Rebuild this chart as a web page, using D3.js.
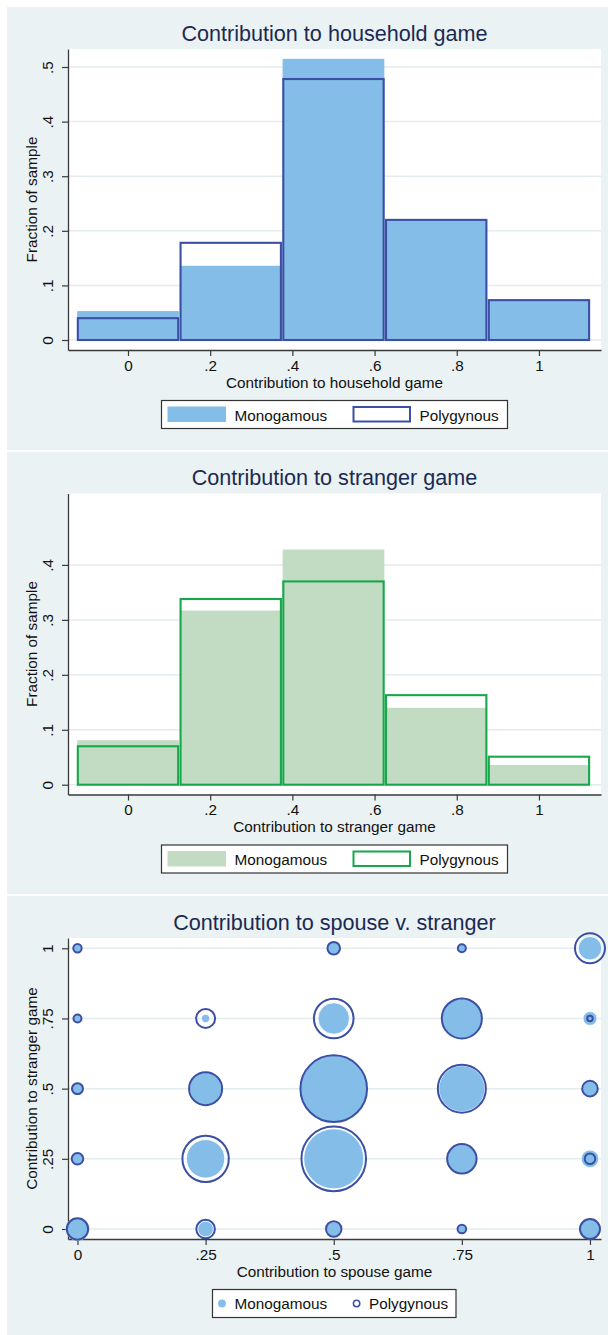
<!DOCTYPE html>
<html>
<head>
<meta charset="utf-8">
<script src="https://cdn.jsdelivr.net/npm/d3@7"></script>
<style>
  html, body { margin: 0; padding: 0; background: #ffffff; }
  svg { display: block; font-family: "Liberation Sans", Arial, Helvetica, sans-serif; }
</style>
</head>
<body>
<script>
// ---------------- DATA ----------------
const binCenters = [0, 0.25, 0.5, 0.75, 1];
const binWidth = 0.25;
const groupNames = ["Monogamous", "Polygynous"];

const householdMono = [0.053, 0.136, 0.515, 0.220, 0.073];
const householdPoly = [0.040, 0.178, 0.478, 0.220, 0.073];
const strangerMono  = [0.081, 0.317, 0.428, 0.140, 0.036];
const strangerPoly  = [0.070, 0.338, 0.370, 0.163, 0.051];

const histXTicks = [0, 0.2, 0.4, 0.6, 0.8, 1];
const histXLabels = ["0", ".2", ".4", ".6", ".8", "1"];
const hhYTicks = [0, 0.1, 0.2, 0.3, 0.4, 0.5];
const hhYLabels = ["0", ".1", ".2", ".3", ".4", ".5"];
const stYTicks = [0, 0.1, 0.2, 0.3, 0.4];
const stYLabels = ["0", ".1", ".2", ".3", ".4"];

const spouseLevels = [0, 0.25, 0.5, 0.75, 1];
const strangerLevels = [0, 0.25, 0.5, 0.75, 1];
const scatterTickLabels = ["0", ".25", ".5", ".75", "1"];
// weights (% of group) rows = stranger level, columns = spouse level
const monoWeights = [
  [2.65, 1.22, 1.07, 0.39, 2.00],
  [0.67, 7.37, 18.0, 4.32, 1.55],
  [0.85, 5.31, 22.18, 10.58, 1.22],
  [0.37, 0.35, 4.93, 7.84, 0.98],
  [0.37, 0.00, 0.79, 0.32, 2.74]
];
const polyWeights = [
  [2.29, 1.73, 1.19, 0.37, 2.00],
  [0.67, 10.76, 20.87, 4.32, 0.56],
  [0.60, 5.45, 22.18, 11.52, 1.22],
  [0.32, 1.80, 7.84, 8.00, 0.15],
  [0.35, 0.00, 0.79, 0.32, 4.50]
];

// ---------------- STYLE ----------------
const W = 608, H = 1335;
const bgCol = "#eaf2f3";
const gridCol = "#e4ecef";
const axisCol = "#3a3a3a";
const titleCol = "#1b2a52";
const blueFill = "#85bde9";
const blueLine = "#3b4fa5";
const greenFill = "#c1dcc2";
const greenLine = "#17a84b";

const svg = d3.select("body").append("svg").attr("width", W).attr("height", H);

const plotX0 = 68, plotX1 = 601;

function panelBg(top, bottom) {
  svg.append("rect").attr("x", 7).attr("y", top).attr("width", W - 7).attr("height", bottom - top)
    .attr("fill", bgCol);
}

function styleAxis(g) {
  g.selectAll("path.domain").attr("stroke", axisCol).attr("stroke-width", 1.3);
  g.selectAll(".tick line").attr("stroke", axisCol).attr("stroke-width", 1.2);
  g.selectAll(".tick text").attr("fill", "#111").attr("font-size", 15.3)
    .attr("font-family", "'Liberation Sans', Arial, sans-serif");
}

function drawFrame(o) {
  const off = o.off;
  svg.append("rect").attr("x", plotX0).attr("y", off + 49).attr("width", plotX1 - plotX0)
    .attr("height", 301).attr("fill", "#ffffff");
  // gridlines
  svg.append("g").selectAll("line").data(o.yTicks).join("line")
    .attr("x1", plotX0 + 1).attr("x2", plotX1)
    .attr("y1", d => o.y(d)).attr("y2", d => o.y(d))
    .attr("stroke", gridCol).attr("stroke-width", 1.5);
  // title
  svg.append("text").attr("x", (plotX0 + plotX1) / 2).attr("y", off + 40.5)
    .attr("text-anchor", "middle").attr("font-size", 21.6).attr("fill", titleCol).text(o.title);
  // x title
  svg.append("text").attr("x", (plotX0 + plotX1) / 2).attr("y", off + 387.5)
    .attr("text-anchor", "middle").attr("font-size", 15.3).attr("fill", "#111").text(o.xTitle);
  // y title
  svg.append("text").attr("transform", `translate(37,${off + 199.5}) rotate(-90)`)
    .attr("text-anchor", "middle").attr("font-size", 15.3).attr("fill", "#111").text(o.yTitle);
}

function drawAxes(o) {
  const off = o.off;
  const gx = svg.append("g").attr("transform", `translate(0,${off + 350})`)
    .call(d3.axisBottom(o.x).tickValues(o.xTicks).tickFormat((d, i) => o.xLabels[i])
      .tickSize(6).tickSizeOuter(0));
  styleAxis(gx);
  gx.selectAll(".tick text").attr("y", 20.5).attr("dy", 0);

  const gy = svg.append("g").attr("transform", `translate(${plotX0},0)`)
    .call(d3.axisLeft(o.y).tickValues(o.yTicks).tickFormat((d, i) => o.yLabels[i])
      .tickSize(6).tickSizeOuter(0));
  styleAxis(gy);
  gy.selectAll(".tick text").attr("x", 0).attr("dy", 0)
    .attr("text-anchor", "middle")
    .attr("transform", `translate(${53 - plotX0},0) rotate(-90)`);
}

function drawHist(o) {
  const off = o.off;
  const x = d3.scaleLinear().domain([-0.146, 1.151]).range([plotX0, plotX1]);
  const y = d3.scaleLinear().domain(o.yDomain).range([off + 350, off + 49]);
  const cfg = Object.assign({}, o, { x, y });
  drawFrame(cfg);

  const bars = binCenters.map((c, i) => ({ c, m: o.mono[i], p: o.poly[i] }));
  svg.append("g").selectAll("rect").data(bars).join("rect")
    .attr("x", d => x(d.c - binWidth / 2) + 0.5)
    .attr("width", d => x(d.c + binWidth / 2) - x(d.c - binWidth / 2) - 1)
    .attr("y", d => y(d.m))
    .attr("height", d => y(0) - y(d.m))
    .attr("fill", o.fill);
  svg.append("g").selectAll("rect").data(bars).join("rect")
    .attr("x", d => x(d.c - binWidth / 2) + 1.2)
    .attr("width", d => x(d.c + binWidth / 2) - x(d.c - binWidth / 2) - 2.4)
    .attr("y", d => y(d.p))
    .attr("height", d => y(0) - y(d.p))
    .attr("fill", "none").attr("stroke", o.line).attr("stroke-width", 2.1);

  drawAxes(cfg);

  const lg = svg.append("g");
  lg.append("rect").attr("x", 161.5).attr("y", off + 400.5).attr("width", 346).attr("height", 28)
    .attr("fill", "#fff").attr("stroke", "#333").attr("stroke-width", 1.2);
  lg.append("rect").attr("x", 167.5).attr("y", off + 406.5).attr("width", 58.5).attr("height", 15.5)
    .attr("fill", o.fill);
  lg.append("text").attr("x", 234.5).attr("y", off + 420.5).attr("font-size", 15.3).attr("fill", "#111")
    .text(groupNames[0]);
  lg.append("rect").attr("x", 353.5).attr("y", off + 407).attr("width", 56.5).attr("height", 14.5)
    .attr("fill", "#fff").attr("stroke", o.line).attr("stroke-width", 2);
  lg.append("text").attr("x", 419.5).attr("y", off + 420.5).attr("font-size", 15.3).attr("fill", "#111")
    .text(groupNames[1]);
}

// ---------------- PANEL 1 ----------------
panelBg(7, 450);
drawHist({
  off: 0, yDomain: [-0.0183, 0.533], mono: householdMono, poly: householdPoly,
  fill: blueFill, line: blueLine, yTicks: hhYTicks, yLabels: hhYLabels,
  xTicks: histXTicks, xLabels: histXLabels,
  title: "Contribution to household game", xTitle: "Contribution to household game",
  yTitle: "Fraction of sample"
});

// ---------------- PANEL 2 ----------------
panelBg(452, 894);
drawHist({
  off: 444.5, yDomain: [-0.0178, 0.530], mono: strangerMono, poly: strangerPoly,
  fill: greenFill, line: greenLine, yTicks: stYTicks, yLabels: stYLabels,
  xTicks: histXTicks, xLabels: histXLabels,
  title: "Contribution to stranger game", xTitle: "Contribution to stranger game",
  yTitle: "Fraction of sample"
});

// ---------------- PANEL 3 ----------------
panelBg(896, H);
(function () {
  const off = 889;
  const x = d3.scaleLinear().domain([-0.0185, 1.0215]).range([plotX0, plotX1]);
  const y = d3.scaleLinear().domain([-0.0356, 1.0366]).range([off + 350, off + 49]);
  const r = d3.scaleSqrt().domain([0, 25]).range([0, 35.36]);
  const cfg = {
    off, x, y, yTicks: strangerLevels, yLabels: scatterTickLabels,
    xTicks: spouseLevels, xLabels: scatterTickLabels,
    title: "Contribution to spouse v. stranger", xTitle: "Contribution to spouse game",
    yTitle: "Contribution to stranger game"
  };
  drawFrame(cfg);
  drawAxes(cfg);

  const pts = [];
  strangerLevels.forEach((sy, i) => spouseLevels.forEach((sx, j) => {
    pts.push({ sx, sy, m: monoWeights[i][j], p: polyWeights[i][j] });
  }));
  svg.append("g").selectAll("circle").data(pts.filter(d => d.m > 0)).join("circle")
    .attr("cx", d => x(d.sx)).attr("cy", d => y(d.sy)).attr("r", d => r(d.m))
    .attr("fill", blueFill).attr("stroke", "#ffffff").attr("stroke-width", 0.8);
  svg.append("g").selectAll("circle").data(pts.filter(d => d.p > 0)).join("circle")
    .attr("cx", d => x(d.sx)).attr("cy", d => y(d.sy)).attr("r", d => r(d.p))
    .attr("fill", "none").attr("stroke", blueLine).attr("stroke-width", 2);

  const lg = svg.append("g");
  lg.append("rect").attr("x", 212.5).attr("y", off + 400.5).attr("width", 243.5).attr("height", 28)
    .attr("fill", "#fff").attr("stroke", "#333").attr("stroke-width", 1.2);
  lg.append("circle").attr("cx", 222).attr("cy", off + 414.5).attr("r", 3.9).attr("fill", blueFill);
  lg.append("text").attr("x", 234.5).attr("y", off + 420).attr("font-size", 15.3).attr("fill", "#111")
    .text(groupNames[0]);
  lg.append("circle").attr("cx", 356.6).attr("cy", off + 414.5).attr("r", 3.2)
    .attr("fill", "none").attr("stroke", blueLine).attr("stroke-width", 1.5);
  lg.append("text").attr("x", 369).attr("y", off + 420).attr("font-size", 15.3).attr("fill", "#111")
    .text(groupNames[1]);
})();
</script>
</body>
</html>
